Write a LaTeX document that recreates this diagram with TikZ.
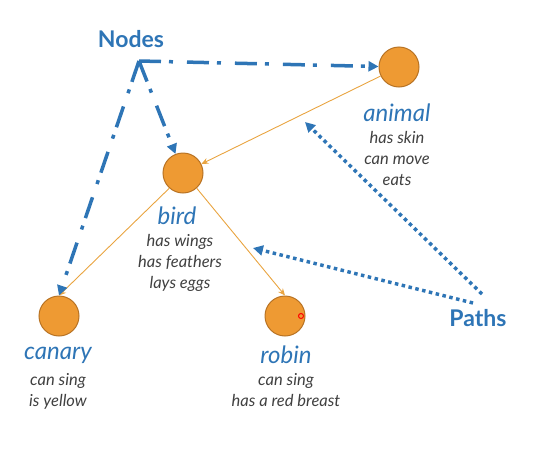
\documentclass[tikz,border=0pt]{standalone}
\usepackage{fontspec}
\setmainfont{Lato}
\usetikzlibrary{arrows.meta}
\definecolor{nodeblue}{HTML}{2E75B6}
\definecolor{textgray}{HTML}{404040}
\definecolor{orfill}{HTML}{EE9A33}
\definecolor{ordraw}{HTML}{B87324}
\definecolor{edgeor}{HTML}{E9A440}
\begin{document}
\begin{tikzpicture}[x=1pt,y=-1pt,
  concept/.style={circle,fill=orfill,draw=ordraw,line width=1pt,minimum size=40pt,inner sep=0pt},
  conceptname/.style={text=nodeblue,font=\fontsize{24}{26}\selectfont\itshape},
  props/.style={text=textgray,font=\fontsize{16.5}{21}\selectfont\itshape,align=center,inner sep=0pt},
  heading/.style={text=nodeblue,font=\fontsize{23}{26}\selectfont\bfseries},
  isa/.style={draw=edgeor,line width=0.9pt,-{Stealth[length=7pt,width=6pt]}},
  nodelink/.style={draw=nodeblue,line width=3.5pt,dash pattern=on 22pt off 8pt on 4pt off 14pt,-{Triangle[length=10pt,width=10pt]}},
  pathlink/.style={draw=nodeblue,line width=3.5pt,dash pattern=on 3.5pt off 3.5pt,-{Triangle[length=10pt,width=10pt]}}]
\useasboundingbox (0,0) rectangle (533,458);
\node[concept] (animal) at (399,67) {};
\node[concept] (bird) at (183,173) {};
\node[concept] (canary) at (59,316) {};
\node[concept] (robin) at (285,316) {};
\node[circle,draw=red,line width=1pt,minimum size=5pt,inner sep=0pt] (cursor) at (301,316) {};
\node[conceptname] (animalname) at (397,113) {animal};
\node[props,anchor=base] (animalprops) at (397,185) {has skin\\can move\\eats};
\node[conceptname] (birdname) at (177,216) {bird};
\node[props,anchor=base] (birdprops) at (180,288) {has wings\\has feathers\\lays eggs};
\node[conceptname] (canaryname) at (58,355) {canary};
\node[props,anchor=base] (canaryprops) at (58,406) {can sing\\is yellow};
\node[conceptname] (robinname) at (286,355) {robin};
\node[props,anchor=base] (robinprops) at (286,406) {can sing\\has a red breast};
\node[heading] (nodes) at (131,39) {Nodes};
\node[heading] (paths) at (478,318) {Paths};
\coordinate (apex) at (139,61);
\coordinate (p1) at (482,294);
\coordinate (p2) at (473,303);
\coordinate (t1) at (305,122);
\coordinate (t2) at (253,248);
\draw[isa] (animal) -- (bird);
\draw[isa] (bird.228) -- (canary.north);
\draw[isa] (bird.312) -- (robin.north);
\draw[nodelink] (apex) -- (animal);
\draw[nodelink] (apex) -- (bird);
\draw[nodelink] (apex) -- (canary.north);
\draw[pathlink] (p1) -- (t1);
\draw[pathlink] (p2) -- (t2);
\end{tikzpicture}
\end{document}
